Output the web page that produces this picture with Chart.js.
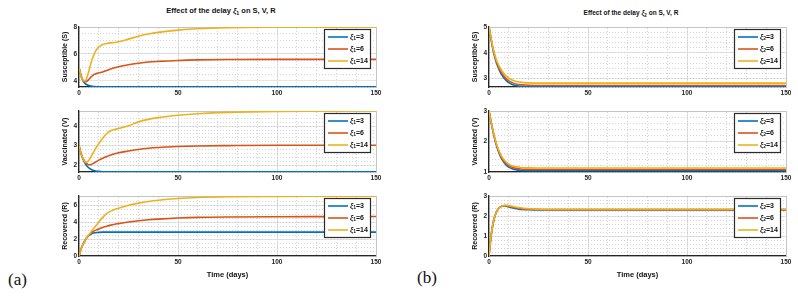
<!DOCTYPE html>
<html>
<head>
<meta charset="utf-8">
<script src="https://cdn.jsdelivr.net/npm/chart.js@4.4.1/dist/chart.umd.min.js"></script>
<style>
  body { margin: 0; width: 798px; height: 296px; background: #fff; position: relative; overflow: hidden;
         font-family: "Liberation Sans", Arial, sans-serif; }
  canvas { position: absolute; }
  .ttl { position: absolute; font-weight: bold; color: #111; white-space: nowrap; transform: translateX(-50%); line-height: 10px; }
  .ttl sub { font-size: 70%; vertical-align: -2px; line-height: 0; }
  .tag { position: absolute; font-family: "Liberation Serif", "Times New Roman", serif; font-size: 17px; line-height: 20px; color: #111; }
</style>
</head>
<body>
<div class="ttl" style="left:221px; top:6px; font-size:7.5px;">Effect of the delay <i>ξ</i><sub>1</sub> on S, V, R</div>
<div class="ttl" style="left:631px; top:8px; font-size:6.5px;">Effect of the delay <i>ξ</i><sub>2</sub> on S, V, R</div>
<div class="tag" style="left:8px; top:270px;">(a)</div>
<div class="tag" style="left:417px; top:268px;">(b)</div>
<script>
// time axis (days) and the three delay values
var time = [0, 1, 2, 3, 4, 5, 6, 7, 8, 9, 10, 12, 14, 16, 18, 20, 25, 30, 35, 40, 50, 60, 75, 100, 125, 150];
var delays = [3, 6, 14];
var xTicks = [0, 50, 100, 150];

// panel (a): delay xi1
var s1_3  = [5, 4.4, 4.0, 3.82, 3.72, 3.66, 3.62, 3.6, 3.58, 3.57, 3.565, 3.56, 3.56, 3.56, 3.56, 3.56, 3.56, 3.56, 3.56, 3.56, 3.56, 3.56, 3.56, 3.56, 3.56, 3.56];
var s1_6  = [5, 4.4, 4.05, 3.95, 3.98, 4.12, 4.28, 4.42, 4.5, 4.56, 4.6, 4.67, 4.78, 4.88, 4.97, 5.05, 5.2, 5.31, 5.4, 5.45, 5.52, 5.56, 5.59, 5.6, 5.6, 5.6];
var s1_14 = [5, 4.4, 4.05, 4.0, 4.25, 4.75, 5.3, 5.75, 6.1, 6.35, 6.52, 6.7, 6.77, 6.82, 6.85, 6.9, 7.1, 7.32, 7.48, 7.6, 7.77, 7.87, 7.94, 7.98, 7.99, 8.0];

var v1_3  = [3, 2.6, 2.3, 2.1, 1.95, 1.85, 1.78, 1.73, 1.7, 1.68, 1.67, 1.655, 1.65, 1.65, 1.65, 1.65, 1.65, 1.65, 1.65, 1.65, 1.65, 1.65, 1.65, 1.65, 1.65, 1.65];
var v1_6  = [3, 2.6, 2.35, 2.17, 2.06, 2.01, 2.02, 2.07, 2.13, 2.19, 2.25, 2.35, 2.44, 2.52, 2.58, 2.63, 2.72, 2.8, 2.86, 2.9, 2.95, 2.98, 3.0, 3.02, 3.02, 3.02];
var v1_14 = [3, 2.6, 2.33, 2.17, 2.15, 2.25, 2.42, 2.6, 2.78, 2.95, 3.1, 3.38, 3.62, 3.76, 3.83, 3.88, 4.02, 4.22, 4.35, 4.44, 4.56, 4.64, 4.71, 4.76, 4.77, 4.78];

var r1_3  = [0, 0.8, 1.4, 1.85, 2.2, 2.45, 2.6, 2.7, 2.76, 2.8, 2.82, 2.84, 2.85, 2.85, 2.85, 2.85, 2.85, 2.85, 2.85, 2.85, 2.85, 2.85, 2.85, 2.85, 2.85, 2.85];
var r1_6  = [0, 0.8, 1.4, 1.85, 2.2, 2.5, 2.72, 2.88, 3.02, 3.13, 3.23, 3.4, 3.55, 3.68, 3.78, 3.86, 4.05, 4.2, 4.32, 4.4, 4.52, 4.6, 4.65, 4.68, 4.69, 4.7];
var r1_14 = [0, 0.8, 1.4, 1.85, 2.22, 2.55, 2.85, 3.15, 3.45, 3.75, 4.05, 4.6, 5.05, 5.35, 5.55, 5.7, 6.05, 6.3, 6.5, 6.65, 6.85, 6.97, 7.06, 7.11, 7.13, 7.14];

// panel (b): delay xi2
var s2_3  = [5, 4.55, 4.12, 3.8, 3.55, 3.36, 3.2, 3.08, 2.98, 2.9, 2.84, 2.76, 2.72, 2.7, 2.69, 2.68, 2.68, 2.68, 2.68, 2.68, 2.68, 2.68, 2.68, 2.68, 2.68, 2.68];
var s2_6  = [5, 4.57, 4.16, 3.85, 3.6, 3.42, 3.27, 3.15, 3.05, 2.97, 2.91, 2.83, 2.78, 2.76, 2.75, 2.74, 2.73, 2.73, 2.73, 2.73, 2.73, 2.73, 2.73, 2.73, 2.73, 2.73];
var s2_14 = [5, 4.6, 4.2, 3.9, 3.67, 3.5, 3.36, 3.25, 3.15, 3.07, 3.01, 2.93, 2.88, 2.86, 2.84, 2.83, 2.82, 2.82, 2.82, 2.82, 2.82, 2.82, 2.82, 2.82, 2.82, 2.82];

var v2_3  = [3, 2.65, 2.33, 2.05, 1.82, 1.63, 1.48, 1.37, 1.28, 1.21, 1.16, 1.1, 1.07, 1.05, 1.045, 1.04, 1.04, 1.04, 1.04, 1.04, 1.04, 1.04, 1.04, 1.04, 1.04, 1.04];
var v2_6  = [3, 2.66, 2.35, 2.08, 1.85, 1.66, 1.52, 1.41, 1.32, 1.26, 1.21, 1.15, 1.12, 1.1, 1.09, 1.085, 1.08, 1.08, 1.08, 1.08, 1.08, 1.08, 1.08, 1.08, 1.08, 1.08];
var v2_14 = [3, 2.67, 2.37, 2.1, 1.88, 1.7, 1.56, 1.45, 1.37, 1.31, 1.26, 1.2, 1.17, 1.15, 1.14, 1.135, 1.13, 1.13, 1.13, 1.13, 1.13, 1.13, 1.13, 1.13, 1.13, 1.13];

var r2_3  = [0, 0.95, 1.6, 2.0, 2.25, 2.4, 2.47, 2.5, 2.5, 2.48, 2.45, 2.4, 2.36, 2.33, 2.32, 2.31, 2.3, 2.3, 2.3, 2.3, 2.3, 2.3, 2.3, 2.3, 2.3, 2.3];
var r2_6  = [0, 0.95, 1.6, 2.0, 2.25, 2.4, 2.47, 2.51, 2.52, 2.51, 2.49, 2.44, 2.4, 2.37, 2.35, 2.34, 2.33, 2.32, 2.32, 2.32, 2.32, 2.32, 2.32, 2.32, 2.32, 2.32];
var r2_14 = [0, 0.95, 1.6, 2.0, 2.25, 2.4, 2.47, 2.51, 2.53, 2.53, 2.52, 2.48, 2.44, 2.41, 2.38, 2.36, 2.34, 2.33, 2.33, 2.33, 2.33, 2.33, 2.33, 2.33, 2.33, 2.33];

var colors = ['#0072BD', '#D95319', '#EDB120'];
var FONT = '"Liberation Sans", Arial, sans-serif';
Chart.defaults.font.family = FONT;

// legend box drawn inside the plot (top right), MATLAB style
var legendBox = {
  id: 'legendBox',
  afterDatasetsDraw: function(chart) {
    var ctx = chart.ctx, area = chart.chartArea;
    var w = 47, h = 40;
    var x = area.right - 5 - w, y = area.top + 2;
    ctx.save();
    ctx.fillStyle = '#fff';
    ctx.fillRect(x, y, w, h);
    ctx.strokeStyle = '#2b2b2b';
    ctx.lineWidth = 1.2;
    ctx.strokeRect(x + 0.5, y + 0.5, w - 1, h - 1);
    chart.data.datasets.forEach(function(ds, i) {
      var cy = y + 8 + i * 12;
      ctx.strokeStyle = ds.borderColor;
      ctx.lineWidth = 1.6;
      ctx.beginPath();
      ctx.moveTo(x + 4, cy);
      ctx.lineTo(x + 24, cy);
      ctx.stroke();
      var lab = ds.label;
      ctx.fillStyle = '#111';
      ctx.textBaseline = 'middle';
      ctx.font = 'italic bold 7px ' + FONT;
      var tx = x + 26;
      ctx.fillText(lab.slice(0, 1), tx, cy);
      tx += ctx.measureText(lab.slice(0, 1)).width;
      ctx.font = 'bold 5px ' + FONT;
      ctx.fillText(lab.slice(1, 2), tx, cy + 2);
      tx += ctx.measureText(lab.slice(1, 2)).width;
      ctx.font = 'bold 7px ' + FONT;
      ctx.fillText(lab.slice(2), tx, cy);
    });
    ctx.restore();
  }
};

function panel(p) {
  var cv = document.createElement('canvas');
  cv.width = 326;
  cv.height = p.h;
  cv.style.left = p.left + 'px';
  cv.style.top = p.top + 'px';
  document.body.appendChild(cv);

  var datasets = p.series.map(function(vals, i) {
    return {
      label: 'ξ' + p.sub + '=' + delays[i],
      data: time.map(function(t, k) { return {x: t, y: vals[k]}; }),
      borderColor: colors[i],
      borderWidth: 1.6,
      pointRadius: 0,
      fill: false,
      cubicInterpolationMode: 'monotone',
      order: 3 - i
    };
  });

  var tickFont = {size: 6.5, weight: 'bold'};
  new Chart(cv, {
    type: 'line',
    data: {datasets: datasets},
    plugins: [legendBox],
    options: {
      responsive: false,
      animation: false,
      layout: {padding: {top: 7, right: 8, left: 0, bottom: 0}},
      plugins: {legend: {display: false}, tooltip: {enabled: false}},
      scales: {
        x: {
          type: 'linear', position: 'bottom', min: 0, max: 150,
          afterBuildTicks: function(s) { s.ticks = xTicks.map(function(v) { return {value: v}; }); },
          ticks: {padding: 2, color: '#262626', font: tickFont, maxRotation: 0},
          grid: {color: '#e4e4e4', drawTicks: false},
          border: {color: '#262626', width: 1.3},
          title: {display: !!p.xTitle, text: p.xTitle || '', color: '#111',
                  font: {size: 7.5, weight: 'bold'}, padding: {top: 2, bottom: 0}},
          afterFit: function(s) { s.height = p.xh; }
        },
        xm: {
          axis: 'x', type: 'linear', position: 'top', min: 0, max: 150,
          ticks: {display: false, stepSize: 10},
          grid: {color: '#c9c9c9', lineWidth: 0.8, drawTicks: false},
          border: {display: true, color: '#c4c4c4', width: 1, dash: [1, 2]}
        },
        y: {
          type: 'linear', position: 'left', min: p.yMin, max: p.yMax,
          ticks: {stepSize: p.yStep, includeBounds: false, padding: 2, color: '#262626', font: tickFont},
          grid: {color: '#e4e4e4', drawTicks: false},
          border: {color: '#262626', width: 1.3},
          title: {display: true, text: p.yTitle, color: '#111',
                  font: {size: 7, weight: 'bold'}, padding: {top: 3, bottom: 0}},
          afterFit: function(s) { s.width = 21; }
        },
        ym: {
          axis: 'y', type: 'linear', position: 'right', min: p.yMin, max: p.yMax,
          ticks: {display: false, stepSize: p.yMinor},
          grid: {color: '#c9c9c9', lineWidth: 0.8, drawTicks: false},
          border: {display: true, color: '#c4c4c4', width: 1, dash: [1, 2]}
        }
      }
    }
  });
}

// left column: panel (a)
panel({left: 58, top: 20, h: 79, xh: 12, sub: '1', series: [s1_3, s1_6, s1_14],
       yMin: 3.55, yMax: 8, yStep: 2, yMinor: 0.5, yTitle: 'Susceptible (S)'});
panel({left: 58, top: 104, h: 80, xh: 12, sub: '1', series: [v1_3, v1_6, v1_14],
       yMin: 1.64, yMax: 4.78, yStep: 1, yMinor: 0.2, yTitle: 'Vaccinated (V)'});
panel({left: 58, top: 189, h: 90, xh: 23, sub: '1', series: [r1_3, r1_6, r1_14],
       yMin: 0, yMax: 7.15, yStep: 2, yMinor: 0.5, yTitle: 'Recovered (R)', xTitle: 'Time (days)'});

// right column: panel (b)
panel({left: 468, top: 20, h: 79, xh: 12, sub: '2', series: [s2_3, s2_6, s2_14],
       yMin: 2.67, yMax: 5, yStep: 1, yMinor: 0.2, yTitle: 'Susceptible (S)'});
panel({left: 468, top: 104, h: 80, xh: 12, sub: '2', series: [v2_3, v2_6, v2_14],
       yMin: 1, yMax: 3, yStep: 1, yMinor: 0.2, yTitle: 'Vaccinated (V)'});
panel({left: 468, top: 189, h: 90, xh: 23, sub: '2', series: [r2_3, r2_6, r2_14],
       yMin: 0, yMax: 3, yStep: 1, yMinor: 0.2, yTitle: 'Recovered (R)', xTitle: 'Time (days)'});
</script>
</body>
</html>
